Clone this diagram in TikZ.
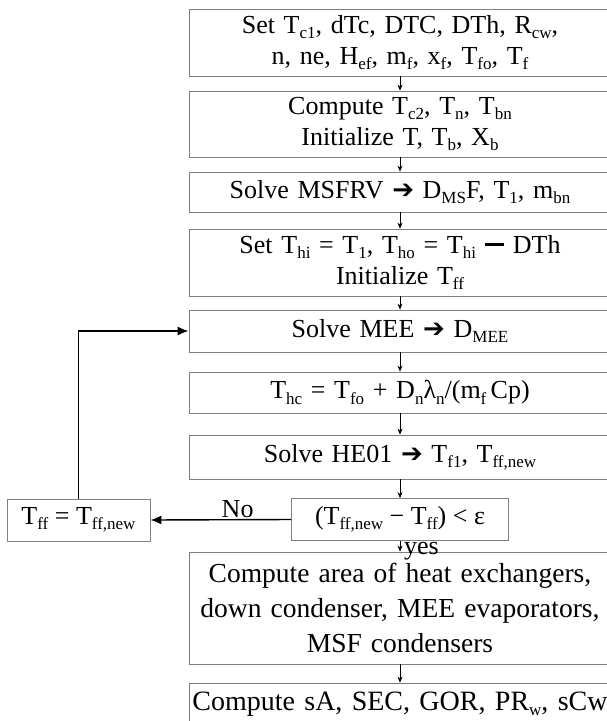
\documentclass[tikz,border=0pt]{standalone}
\usepackage{fontspec}
\setmainfont{Liberation Serif}
\newfontfamily\dejavu{DejaVu Sans}
\usetikzlibrary{arrows.meta}
\newcommand\sbs[1]{\raisebox{-0.2em}{\fontsize{17}{17}\selectfont #1}}
\newcommand\harr{{\dejavu ➔}}
\newcommand\hdash{\rule[0.3em]{0.75em}{0.09em}}
\begin{document}
\begin{tikzpicture}[x=1pt,y=-1pt,
  box/.style={draw=black!50, line width=0.8pt, minimum width=422pt, text width=416pt,
    align=center, inner sep=0pt, font=\fontsize{26}{31}\selectfont},
  sbox/.style={draw=black!50, line width=0.8pt, inner sep=0pt, minimum height=42pt,
    font=\fontsize{26}{31}\selectfont},
  ln/.style={-{Stealth[length=6pt,width=5pt]}, line width=0.7pt},
  lp/.style={-{Latex[length=11pt,width=9pt]}, line width=1.4pt},
  lbl/.style={font=\fontsize{26}{31}\selectfont, inner sep=1pt}]
\useasboundingbox (0,0) rectangle (607,721);
\clip (0,0) rectangle (607,721);
\node[box, minimum height=67pt] (b1) at (400,42.5)
  {Set T\sbs{c1}, dTc, DTC, DTh, R\sbs{cw},\\ n, ne, H\sbs{ef}, m\sbs{f}, x\sbs{f}, T\sbs{fo}, T\sbs{f}};
\node[box, minimum height=66pt] (b2) at (400,124)
  {Compute T\sbs{c2}, T\sbs{n}, T\sbs{bn}\\ Initialize T, T\sbs{b}, X\sbs{b}};
\node[box, minimum height=40pt] (b3) at (400,192)
  {Solve MSFRV \harr{} D\sbs{MS}F, T\sbs{1}, m\sbs{bn}};
\node[box, minimum height=67pt] (b4) at (400,262.5)
  {Set T\sbs{hi} = T\sbs{1}, T\sbs{ho} = T\sbs{hi} \hdash{}  DTh\\ Initialize T\sbs{ff}};
\node[box, minimum height=42pt] (b5) at (400,331)
  {Solve MEE \harr{} D\sbs{MEE}};
\node[box, minimum height=41pt] (b6) at (400,392.5)
  {T\sbs{hc} = T\sbs{fo} + D\sbs{n}λ\sbs{n}/(m\sbs{f}\,Cp)};
\node[box, minimum height=44pt] (b7) at (400,457)
  {Solve HE01 \harr{} T\sbs{f1}, T\sbs{ff,new}};
\node[sbox, minimum width=217pt] (dec) at (400,519.5)
  {(T\sbs{ff,new} − T\sbs{ff}) < ε};
\node[sbox, minimum width=143pt] (tff) at (78.5,520)
  {T\sbs{ff} = T\sbs{ff,new}};
\node[box, minimum height=112pt, font=\fontsize{27.5}{35}\selectfont] (b8) at (400,608)
  {Compute area of heat exchangers,\\ down condenser, MEE evaporators,\\ MSF condensers};
\node[box, minimum height=42pt, font=\fontsize{28}{31}\selectfont] (b9) at (400,704)
  {Compute sA, SEC, GOR, PR\sbs{w}, sCw};
\node[lbl, anchor=base west] (yes) at (403,554) {yes};
\draw[ln] (b1) -- (b2);
\draw[ln] (b2) -- (b3);
\draw[ln] (b3) -- (b4);
\draw[ln] (b4) -- (b5);
\draw[ln] (b5) -- (b6);
\draw[ln] (b6) -- (b7);
\draw[ln] (b7) -- (dec);
\draw[ln] (dec) -- (b8);
\draw[ln] (b8) -- (b9);
\draw[lp] (dec.west) -- node[lbl, above, pos=0.38] {No} (tff.east);
\draw[lp] (tff.north) |- (b5.west);
\end{tikzpicture}
\end{document}
